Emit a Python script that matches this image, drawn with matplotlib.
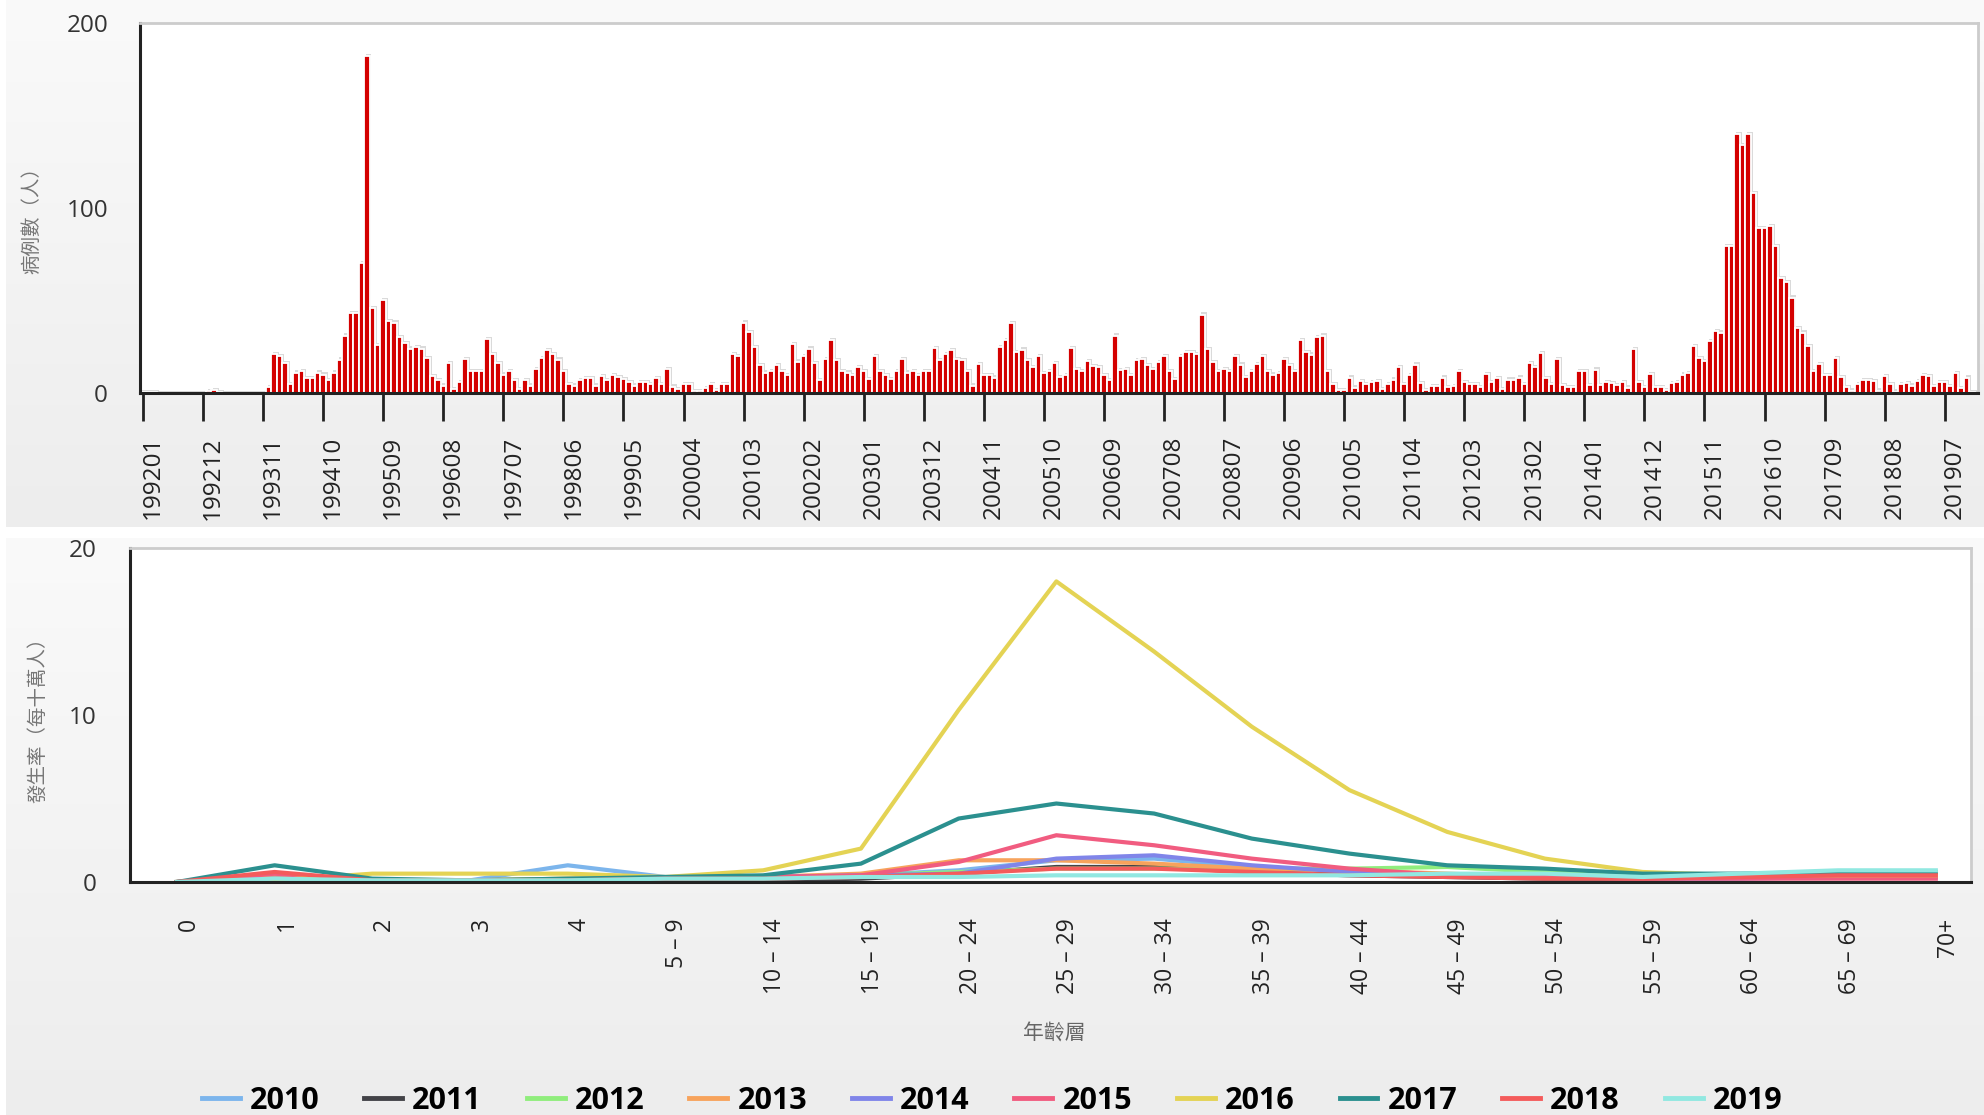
import numpy as np
import matplotlib.pyplot as plt
from matplotlib.transforms import ScaledTranslation
from matplotlib.lines import Line2D
from matplotlib.colors import LinearSegmentedColormap

plt.rcParams['font.family'] = ['Open Sans', 'Noto Sans CJK TC', 'DejaVu Sans']

W, H = 1984, 1115

# monthly case counts, 199201 - 201912 (one row per year)
cases = [
    0.5, 0.5, 0.3, 0, 0, 0, 0, 0, 0, 0, 0, 0,
    1, 1.5, 0.5, 0, 0, 0, 0, 0, 0, 0, 0, 3,
    21, 20, 16, 5, 11, 12, 8, 8, 11, 10, 7, 11,
    18, 31, 43, 43, 70, 182, 46, 26, 50, 39, 38, 30,
    27, 24, 25, 24, 19, 9, 7, 4, 16, 2, 6, 18.5,
    12, 12, 12, 29, 21, 16, 10, 12, 7, 2, 7, 4,
    13, 19, 23, 21, 18, 12, 5, 4, 7, 8, 8, 4,
    9, 7, 9.5, 8.5, 7.5, 6, 4, 6, 6, 5, 8, 5,
    13, 3.5, 2, 5, 5, 1, 1, 2.7, 5, 1.5, 5, 5,
    21, 20, 38, 33, 25, 15, 11, 12, 15, 12, 9.5, 26.6,
    17, 20, 24, 16, 7, 18.5, 28.7, 17.6, 12, 11, 9.5, 14,
    12, 7.4, 20, 12, 9.5, 7.4, 11.7, 18.5, 11, 11.7, 9.5, 11.7,
    11.7, 24.3, 17.6, 21, 23, 18.5, 17.6, 11.7, 4, 15.5, 9.5, 9.5,
    8.3, 25, 28.7, 37.7, 22, 23.4, 17.6, 14, 19.8, 10.8, 12, 16,
    8.6, 9.5, 24.4, 13, 11.7, 17.3, 14.4, 14, 9.5, 6.8, 31, 12.2,
    13, 9.5, 17.6, 18.5, 15, 13, 16.7, 19.8, 11.9, 7.7, 19.8, 22,
    22, 21, 42.4, 23.9, 16.7, 11.9, 13, 11.9, 19.8, 15.3, 8.6, 11.9,
    15.5, 19.8, 11.9, 10, 10.8, 18.5, 15, 11.9, 28.7, 22, 20.8, 30.2,
    31, 11.7, 5, 1.4, 1.4, 8.3, 2.9, 6.3, 5, 6, 6.3, 2.3,
    5, 7.2, 14, 5, 9.5, 15.3, 5.4, 1.4, 3.6, 3.6, 8.3, 3.2,
    3.6, 11.7, 6, 5, 5, 3.2, 10.4, 6, 8, 2.3, 7.2, 7.2,
    8.3, 5, 16, 14, 21.6, 8, 5, 18.5, 4.1, 3.2, 3.2, 11.7,
    11.7, 4.1, 12.6, 4.1, 6, 5.4, 4.1, 6, 2.9, 23.9, 6, 3.2,
    10.4, 3.2, 3.2, 1.5, 5.4, 6, 10, 10.8, 25.5, 19, 17.4, 27.9,
    33.6, 32.7, 79.4, 79.4, 140, 134, 140, 108, 89, 89, 90, 79.4,
    62, 60, 51.6, 35, 32.7, 25.5, 12, 15.6, 9.7, 9.7, 18.7, 8.4,
    3, 1.3, 5, 7, 7, 6.6, 1.3, 9.3, 4.9, 0.7, 5, 5.4,
    4, 6.6, 9.7, 9.3, 3.6, 5.7, 6, 3.6, 10.8, 2.5, 8.3, 0.4,
]
months = [f"{y}{m:02d}" for y in range(1992, 2020) for m in range(1, 13)]

# incidence per 100k by age group
ages = ['0', '1', '2', '3', '4', '5 – 9', '10 – 14', '15 – 19', '20 – 24', '25 – 29',
        '30 – 34', '35 – 39', '40 – 44', '45 – 49', '50 – 54', '55 – 59', '60 – 64',
        '65 – 69', '70+']
years = ['2010', '2011', '2012', '2013', '2014', '2015', '2016', '2017', '2018', '2019']
rate_2010 = [0, 0.2, 0.1, 0.1, 1.0, 0.3, 0.3, 0.4, 0.7, 1.3, 1.4, 0.9, 0.6, 0.4, 0.3, 0.3, 0.3, 0.3, 0.3]
rate_2011 = [0, 0.2, 0.1, 0.1, 0.1, 0.1, 0.1, 0.2, 0.5, 0.9, 0.9, 0.6, 0.4, 0.3, 0.2, 0.2, 0.3, 0.4, 0.4]
rate_2012 = [0, 0.2, 0.1, 0.1, 0.2, 0.2, 0.3, 0.4, 0.6, 0.8, 0.8, 0.8, 0.8, 0.9, 0.6, 0.4, 0.3, 0.3, 0.3]
rate_2013 = [0, 0.3, 0.1, 0.1, 0.2, 0.2, 0.3, 0.5, 1.3, 1.3, 1.1, 0.8, 0.7, 0.5, 0.3, 0.2, 0.3, 0.3, 0.3]
rate_2014 = [0, 0.2, 0.1, 0.1, 0.1, 0.2, 0.3, 0.4, 0.5, 1.4, 1.6, 1.0, 0.6, 0.4, 0.3, 0.2, 0.2, 0.3, 0.3]
rate_2015 = [0, 0.5, 0.1, 0.1, 0.1, 0.2, 0.3, 0.4, 1.2, 2.8, 2.2, 1.4, 0.8, 0.4, 0.3, 0.2, 0.2, 0.2, 0.2]
rate_2016 = [0, 0.1, 0.5, 0.5, 0.5, 0.3, 0.7, 2.0, 10.3, 18.0, 13.8, 9.3, 5.5, 3.0, 1.4, 0.6, 0.4, 0.4, 0.4]
rate_2017 = [0, 1.0, 0.2, 0.1, 0.2, 0.3, 0.4, 1.1, 3.8, 4.7, 4.1, 2.6, 1.7, 1.0, 0.8, 0.5, 0.5, 0.6, 0.6]
rate_2018 = [0, 0.6, 0.1, 0.1, 0.1, 0.2, 0.2, 0.3, 0.5, 0.8, 0.8, 0.6, 0.4, 0.3, 0.2, 0.2, 0.3, 0.4, 0.4]
rate_2019 = [0, 0.2, 0.1, 0.1, 0.1, 0.2, 0.2, 0.3, 0.3, 0.4, 0.4, 0.4, 0.4, 0.5, 0.5, 0.3, 0.5, 0.7, 0.7]
rates = [rate_2010, rate_2011, rate_2012, rate_2013, rate_2014,
         rate_2015, rate_2016, rate_2017, rate_2018, rate_2019]
colors = ['#7cb5ec', '#434348', '#90ed7d', '#f7a35c', '#8085e9',
          '#f15c80', '#e4d354', '#2b908f', '#f45b5b', '#91e8e1']

fig = plt.figure(figsize=(W / 100, H / 100), dpi=100)
fig.patch.set_facecolor('white')

# panel backgrounds (soft vertical gradient)
bg = fig.add_axes([0, 0, 1, 1], zorder=-10)
bg.axis('off')
panel_cmap = LinearSegmentedColormap.from_list('panel', ['#fafafa', '#ededed'])
grad = np.linspace(0, 1, 256).reshape(-1, 1)
bg.imshow(grad, extent=(6, W, 527, 0), aspect='auto', cmap=panel_cmap, interpolation='bicubic')
bg.imshow(grad, extent=(6, W, H, 538), aspect='auto', cmap=panel_cmap, interpolation='bicubic')
bg.set_xlim(0, W)
bg.set_ylim(H, 0)

# ---- monthly cases ----
ax1 = fig.add_axes([140 / W, 1 - 393 / H, (1978 - 140) / W, (393 - 23) / H])
x = np.arange(len(cases))
ax1.bar(x + 0.35, np.array(cases) + 1.2, width=1.0, color='#dadada', linewidth=0)
ax1.bar(x, cases, width=1.0, color='#d40000', edgecolor='white', linewidth=1.3)
ax1.set_xlim(-0.55, 336.1)
ax1.set_ylim(0, 200)
ax1.set_yticks([0, 100, 200])
ax1.set_xticks(x[::11])
ax1.set_xticklabels(months[::11], rotation=90, fontsize=17.5, color='#222')
ax1.tick_params(axis='x', length=20, width=2, color='#222', pad=11)
ax1.tick_params(axis='y', length=0, pad=23, labelsize=17.5, labelcolor='#333')
for lab in ax1.get_xticklabels():
    lab.set_transform(lab.get_transform() + ScaledTranslation(0.1, 0, fig.dpi_scale_trans))
for s in ['top', 'right']:
    ax1.spines[s].set_color('#cccccc')
    ax1.spines[s].set_linewidth(2)
for s in ['left', 'bottom']:
    ax1.spines[s].set_color('#222')
    ax1.spines[s].set_linewidth(2.2)
fig.text(32 / W, 1 - 215 / H, '病例數（人）', rotation=90, ha='center', va='center',
         fontsize=14, color='#777')

# ---- incidence by age ----
ax2 = fig.add_axes([130 / W, 1 - 882 / H, (1971 - 130) / W, (882 - 548) / H])
for yr, vals, c in zip(years, rates, colors):
    ax2.plot(range(len(ages)), vals, color=c, lw=3, solid_joinstyle='round')
ax2.set_xlim(-0.48, 18.36)
ax2.set_ylim(0, 20)
ax2.set_yticks([0, 10, 20])
ax2.set_xticks(range(len(ages)))
ax2.set_xticklabels(ages, rotation=90, fontsize=16.5, color='#222')
ax2.tick_params(axis='x', length=0, pad=26)
ax2.tick_params(axis='y', length=0, pad=24, labelsize=17.5, labelcolor='#333')
for lab in ax2.get_xticklabels():
    lab.set_transform(lab.get_transform() + ScaledTranslation(0.12, 0, fig.dpi_scale_trans))
for s in ['top', 'right']:
    ax2.spines[s].set_color('#cccccc')
    ax2.spines[s].set_linewidth(2)
for s in ['left', 'bottom']:
    ax2.spines[s].set_color('#222')
    ax2.spines[s].set_linewidth(2.2)
fig.text(38 / W, 1 - 715 / H, '發生率（每十萬人）', rotation=90, ha='center', va='center',
         fontsize=14, color='#777')
fig.text(1054 / W, 1 - 1034 / H, '年齡層', ha='center', va='center', fontsize=15, color='#666')

handles = [Line2D([], [], color=c, lw=3.5) for c in colors]
fig.legend(handles, years, loc='center', bbox_to_anchor=(0.5, 1 - 1101 / H), ncol=10,
           frameon=False, prop={'weight': 'bold', 'size': 22}, handlelength=1.24,
           handletextpad=0.33, columnspacing=1.47, borderpad=0.1)

fig.savefig('out.png', dpi=100, facecolor=fig.get_facecolor())
